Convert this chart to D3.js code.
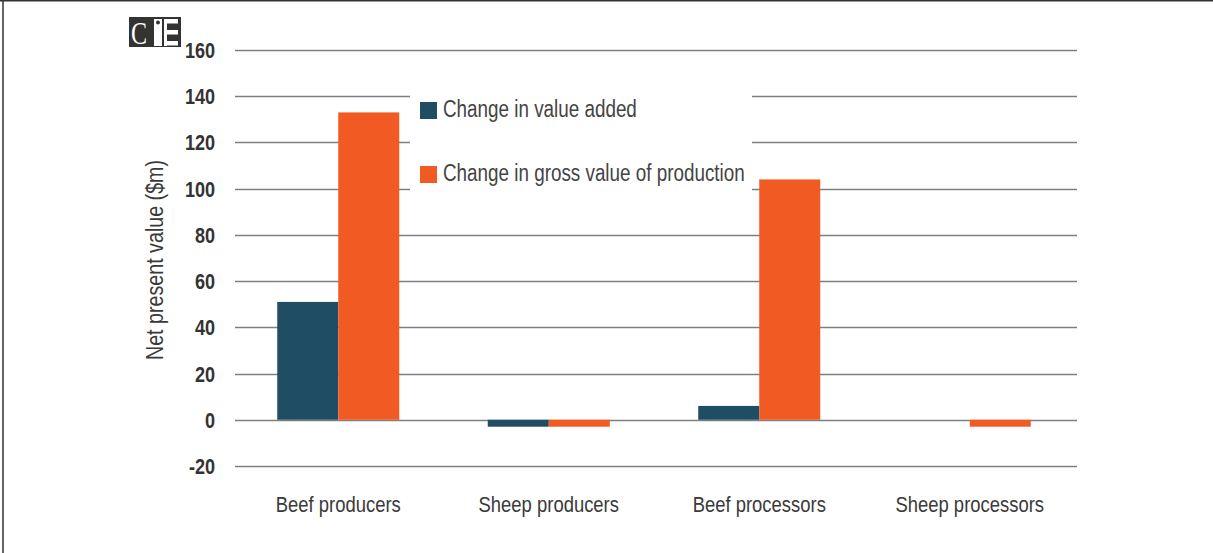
<!DOCTYPE html>
<html>
<head>
<meta charset="utf-8">
<script src="https://cdn.jsdelivr.net/npm/d3@7"></script>
<style>
  body { margin: 0; background: #fff; }
  text { font-family: "Liberation Sans Narrow", "Arial Narrow", "Liberation Sans", Arial, sans-serif; }
</style>
</head>
<body>
<div id="chart"></div>
<script>
// chart data
var categories = ["Beef producers", "Sheep producers", "Beef processors", "Sheep processors"]
var seriesNames = ["Change in value added", "Change in gross value of production"]
var valueAdded = [51, -3, 6, 0]
var grossValue = [133, -3, 104, -3]
var yTicks = [-20, 0, 20, 40, 60, 80, 100, 120, 140, 160]

var width = 1213,
    height = 553
var colors = ["#1f4d63", "#f15a22"]
var narrow = 0.82   // no narrow font installed, so squeeze the regular one

var svg = d3.select("#chart").append("svg")
    .attr("width", width)
    .attr("height", height)

// frame lines (top and left only)
svg.append("line").attr("x1", 0).attr("x2", width).attr("y1", 0.75).attr("y2", 0.75)
    .attr("stroke", "#333").attr("stroke-width", 1.5)
svg.append("line").attr("x1", 3).attr("x2", 3).attr("y1", 0).attr("y2", height)
    .attr("stroke", "#333").attr("stroke-width", 1.5)

var y = d3.scaleLinear().domain([-20, 160]).range([466, 50])
var x0 = d3.scaleBand().domain(categories).range([233, 1075])
var barW = 61
var x1 = d3.scaleBand().domain(seriesNames).range([0, barW * 2])

// gridlines
svg.append("g").selectAll("line")
    .data(yTicks)
    .enter().append("line")
    .attr("x1", 235).attr("x2", 1077)
    .attr("y1", function(d) { return Math.round(y(d)) + 0.5 })
    .attr("y2", function(d) { return Math.round(y(d)) + 0.5 })
    .attr("stroke", "#7f7f7f")
    .attr("stroke-width", 1.5)

// y tick labels
svg.append("g").selectAll("text")
    .data(yTicks)
    .enter().append("text")
    .attr("transform", function(d) { return "translate(215," + (y(d) + 8) + ") scale(" + narrow + ",1)" })
    .attr("text-anchor", "end")
    .attr("font-size", 22)
    .attr("font-weight", "bold")
    .attr("fill", "#333")
    .text(function(d) { return d })

// bars
var rows = categories.map(function(c, i) {
  return { cat: c, vals: [valueAdded[i], grossValue[i]] }
})
var groups = svg.append("g").selectAll("g")
    .data(rows)
    .enter().append("g")
    .attr("transform", function(d) { return "translate(" + (x0(d.cat) + (x0.bandwidth() - barW * 2) / 2) + ",0)" })

groups.selectAll("rect")
    .data(function(d) { return d.vals.map(function(v, j) { return { name: seriesNames[j], v: v, j: j } }) })
    .enter().append("rect")
    .attr("x", function(d) { return x1(d.name) })
    .attr("width", x1.bandwidth())
    .attr("y", function(d) { return y(Math.max(0, d.v)) })
    .attr("height", function(d) { return Math.abs(y(d.v) - y(0)) })
    .attr("fill", function(d) { return colors[d.j] })

// category labels
svg.append("g").selectAll("text")
    .data(categories)
    .enter().append("text")
    .attr("transform", function(d) { return "translate(" + (x0(d) + x0.bandwidth() / 2) + ",512) scale(" + narrow + ",1)" })
    .attr("text-anchor", "middle")
    .attr("font-size", 22.5)
    .attr("fill", "#3a3a3a")
    .text(function(d) { return d })

// axis title
svg.append("text")
    .attr("transform", "translate(163,260) rotate(-90) scale(" + narrow + ",1)")
    .attr("text-anchor", "middle")
    .attr("font-size", 24)
    .attr("fill", "#3a3a3a")
    .text("Net present value ($m)")

// legend
var legend = svg.append("g")
legend.append("rect")
    .attr("x", 410).attr("y", 62).attr("width", 342).attr("height", 134)
    .attr("fill", "#fff")
var legendY = [102, 166]
seriesNames.forEach(function(s, i) {
  legend.append("rect")
      .attr("x", 420).attr("y", legendY[i]).attr("width", 17).attr("height", 17)
      .attr("fill", colors[i])
  legend.append("text")
      .attr("transform", "translate(443," + (legendY[i] + 15) + ") scale(" + narrow + ",1)")
      .attr("font-size", 23)
      .attr("fill", "#444")
      .text(s)
})

// CIE logo
var logo = svg.append("g")
logo.append("rect").attr("x", 129).attr("y", 17).attr("width", 52).attr("height", 30).attr("fill", "#333")
logo.append("text")
    .attr("transform", "translate(131,44) scale(0.75,1)")
    .attr("font-size", 32)
    .attr("fill", "#fff")
    .style("font-family", "'Liberation Serif', serif")
    .text("C")
logo.append("rect").attr("x", 154).attr("y", 19).attr("width", 8).attr("height", 27).attr("fill", "#fff")
logo.append("circle").attr("cx", 158).attr("cy", 22.5).attr("r", 2).attr("fill", "#333")
;[19, 30, 41].forEach(function(yy) {
  logo.append("rect").attr("x", 164).attr("y", yy).attr("width", 14).attr("height", 4.5).attr("fill", "#fff")
})
logo.append("rect").attr("x", 164).attr("y", 19).attr("width", 3).attr("height", 27).attr("fill", "#fff")
</script>
</body>
</html>
